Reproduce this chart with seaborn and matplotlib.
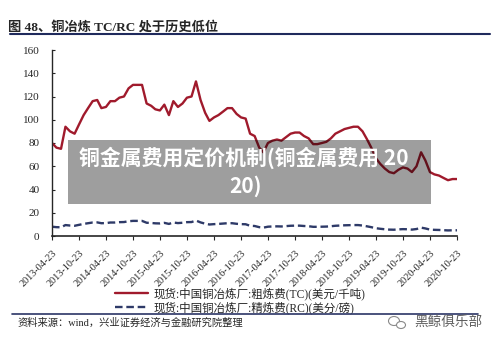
import pandas as pd
import matplotlib
matplotlib.use('Agg')
import matplotlib.pyplot as plt
from matplotlib.patches import Rectangle, Ellipse
from matplotlib.lines import Line2D
import seaborn as sns

# monthly readings, 2013-04 .. 2020-10
tc = [80, 76, 75, 94, 90, 88, 96, 104, 110, 116,
      117, 110, 111, 116, 116, 119, 120, 127, 130, 130,
      130, 114, 112, 109, 108, 113, 104, 116, 111, 114,
      119, 120, 133, 117, 106, 99, 102, 104, 107, 110,
      110, 105, 102, 101, 88, 86, 76, 72, 80, 82,
      83, 82, 85, 88, 89, 89, 86, 84, 79, 79,
      80, 81, 84, 88, 90, 92, 93, 94, 94, 90,
      83, 76, 67, 62, 58, 55, 54, 57, 59, 58,
      55, 60, 72, 65, 55, 53, 52, 50, 48, 49, 49]
rc = [8.0, 7.6, 7.5, 9.4, 9.0, 8.8, 9.6, 10.4, 11.0, 11.6,
      11.7, 11.0, 11.1, 11.6, 11.6, 11.9, 12.0, 12.7, 13.0, 13.0,
      13.0, 11.4, 11.2, 10.9, 10.8, 11.3, 10.4, 11.6, 11.1, 11.4,
      11.9, 12.0, 13.3, 11.7, 10.6, 9.9, 10.2, 10.4, 10.7, 11.0,
      11.0, 10.5, 10.2, 10.1, 8.8, 8.6, 7.6, 7.2, 8.0, 8.2,
      8.3, 8.2, 8.5, 8.8, 8.9, 8.9, 8.6, 8.4, 7.9, 7.9,
      8.0, 8.1, 8.4, 8.8, 9.0, 9.2, 9.3, 9.4, 9.4, 9.0,
      8.3, 7.6, 6.7, 6.2, 5.8, 5.5, 5.4, 5.7, 5.9, 5.8,
      5.5, 6.0, 7.2, 6.5, 5.5, 5.3, 5.2, 5.0, 4.8, 4.9, 4.9]
tick_labels = ['2013-04-23', '2013-10-23', '2014-04-23', '2014-10-23',
               '2015-04-23', '2015-10-23', '2016-04-23', '2016-10-23',
               '2017-04-23', '2017-10-23', '2018-04-23', '2018-10-23',
               '2019-04-23', '2019-10-23', '2020-04-23', '2020-10-23']
tc_name = '现货:中国铜冶炼厂:粗炼费(TC)(美元/千吨)'
rc_name = '现货:中国铜冶炼厂:精炼费(RC)(美分/磅)'

dates = pd.date_range('2013-04-23', periods=len(tc), freq=pd.DateOffset(months=1))
df = pd.DataFrame({'date': dates, 'TC': tc, 'RC': rc})

sns.set_style('ticks')
plt.rcParams['font.family'] = ['Liberation Serif', 'Noto Sans CJK SC']
cjk = ['Noto Sans CJK SC']

fig = plt.figure(figsize=(5, 3.46), dpi=100)
ax = fig.add_axes([52 / 500, 1 - 236 / 346, 405 / 500, 186 / 346])

sns.lineplot(data=df, x='date', y='TC', color='#A01A2C', lw=1.7, ax=ax, label=tc_name)
sns.lineplot(data=df, x='date', y='RC', color='#2E3A68', lw=1.7,
             linestyle=(0, (3.2, 1.6)), ax=ax, label=rc_name)

ax.set_xlim(dates[0], dates[-1])
ax.set_ylim(0, 160)
ax.set_yticks(range(0, 161, 20))
ax.set_xticks(dates[::6])
ax.set_xticklabels(tick_labels, rotation=45, ha='right', rotation_mode='anchor', fontsize=7.3)
ax.tick_params(axis='y', direction='in', length=2, labelsize=8, pad=9)
ax.tick_params(axis='x', direction='out', length=3, pad=6)
ax.set_xlabel('')
ax.set_ylabel('')
for s in ['top', 'right']:
    ax.spines[s].set_visible(False)
ax.spines['left'].set_linewidth(1.0)
ax.spines['bottom'].set_linewidth(1.2)

ax.legend(loc='upper left', bbox_to_anchor=(115 / 500, 1 - 287 / 346),
          bbox_transform=fig.transFigure, frameon=False, fontsize=8.3,
          handlelength=2.9, handletextpad=0.4, labelspacing=0.15,
          borderpad=0, borderaxespad=0)

# header / footer
fig.text(8 / 500, 1 - 27 / 346, '图 48、铜冶炼 TC/RC 处于历史低位', fontsize=9.5,
         fontweight='bold', va='center')
fig.add_artist(Line2D([10 / 500, 490 / 500], [1 - 34 / 346] * 2, color='#1F2A5C', lw=1.5))
fig.add_artist(Line2D([12 / 500, 478 / 500], [1 - 314 / 346] * 2, color='#2B3566', lw=1.2))
fig.text(18 / 500, 1 - 323 / 346, '资料来源：wind，兴业证券经济与金融研究院整理',
         fontsize=7.4, va='center')
fig.add_artist(Ellipse((394 / 500, 1 - 321 / 346), 11 / 500, 9 / 346, transform=fig.transFigure,
                       facecolor='white', edgecolor='#8a8a8a', lw=0.8))
fig.add_artist(Ellipse((401 / 500, 1 - 325 / 346), 9 / 500, 7 / 346, transform=fig.transFigure,
                       facecolor='white', edgecolor='#8a8a8a', lw=0.8))
fig.text(414 / 500, 1 - 322 / 346, '黑鲸俱乐部', fontsize=9.8, color='#5e5e5e',
         va='center', family=cjk)

# overlay banner
fig.add_artist(Rectangle((68 / 500, 1 - 204 / 346), 363 / 500, 64 / 346,
                         transform=fig.transFigure, facecolor='black', alpha=0.38,
                         edgecolor='none', zorder=5))
fig.text(244 / 500, 1 - 158 / 346, '铜金属费用定价机制(铜金属费用 20', fontsize=15,
         fontweight='bold', color='white', ha='center', va='center', family=cjk, zorder=6)
fig.text(246 / 500, 1 - 186 / 346, '20)', fontsize=15,
         fontweight='bold', color='white', ha='center', va='center', family=cjk, zorder=6)

fig.savefig('out.png', dpi=100)
